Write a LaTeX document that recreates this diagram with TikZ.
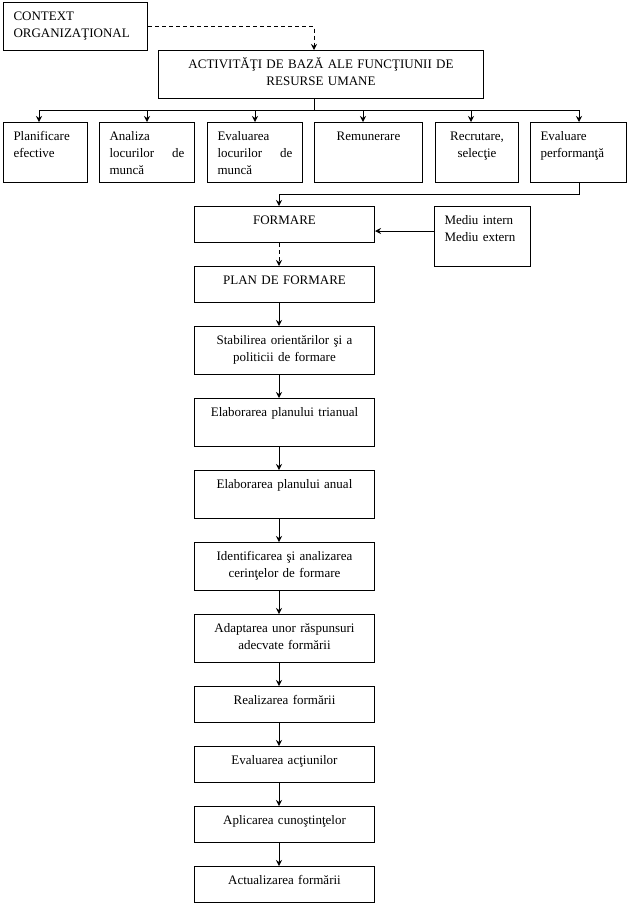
\documentclass[tikz,border=0pt]{standalone}
\usepackage{fontspec}
\setmainfont{Liberation Serif}
\usetikzlibrary{arrows.meta}
\tikzset{%
  box/.style={draw,anchor=north west,inner xsep=10pt,inner ysep=0pt,text height=18pt,align=left,font=\fontsize{13}{17}\selectfont},
  cbox/.style={box,align=center},
  colbox/.style={cbox,text width=160pt},
  shortbox/.style={colbox,text depth=18pt},
  tallbox/.style={colbox,text depth=30pt},
  rowbox/.style={text depth=42pt},
  dline/.style={dash pattern=on 4pt off 3pt}
}
\newcommand{\spread}{\hskip 0pt plus 1filll\relax}
\begin{document}
\begin{tikzpicture}[x=1pt,y=-1pt,line width=1pt,>={Stealth[length=6pt,width=6pt,inset=2pt]}]
  \useasboundingbox (0,0) rectangle (630,906);
  \coordinate (top) at (314,0);
  \coordinate (spine) at (279,0);
  % top boxes
  \node[box,text width=124pt,text depth=30pt] (ctx) at (3,2) {CONTEXT\\ORGANIZAŢIONAL};
  \node[cbox,text width=305pt,text depth=30pt] (main) at (158,50) {ACTIVITĂŢI DE BAZĂ ALE FUNCŢIUNII DE\\RESURSE UMANE};
  % row of activities
  \node[box,rowbox,text width=64pt] (planif) at (3,122) {Planificare\\efective};
  \node[box,rowbox,text width=75pt] (analiza) at (99,122) {Analiza\\locurilor\spread de\\muncă};
  \node[box,rowbox,text width=75pt] (evalloc) at (207,122) {Evaluarea\\locurilor\spread de\\muncă};
  \node[cbox,rowbox,text width=88pt] (remun) at (314,122) {Remunerare};
  \node[cbox,rowbox,text width=63pt] (recrut) at (435,122) {Recrutare,\\selecţie};
  \node[box,rowbox,text width=76pt] (evalperf) at (530,122) {Evaluare\\performanţă};
  % training column
  \node[shortbox] (formare) at (194,206) {FORMARE};
  \node[box,rowbox,text width=76pt] (mediu) at (434,206) {Mediu intern\\Mediu extern};
  \node[shortbox] (planf) at (194,266) {PLAN DE FORMARE};
  \node[tallbox] (stab) at (194,326) {Stabilirea orientărilor şi a\\politicii de formare};
  \node[tallbox] (trian) at (194,398) {Elaborarea planului trianual};
  \node[tallbox] (anual) at (194,470) {Elaborarea planului anual};
  \node[tallbox] (ident) at (194,542) {Identificarea şi analizarea\\cerinţelor de formare};
  \node[tallbox] (adapt) at (194,614) {Adaptarea unor răspunsuri\\adecvate formării};
  \node[shortbox] (realiz) at (194,686) {Realizarea formării};
  \node[shortbox] (evact) at (194,746) {Evaluarea acţiunilor};
  \node[shortbox] (aplic) at (194,806) {Aplicarea cunoştinţelor};
  \node[shortbox] (actual) at (194,866) {Actualizarea formării};
  % connectors
  \draw[->,dline] (ctx.east) -| (main.north -| top);
  \foreach \n/\x in {planif/39,analiza/147,evalloc/255,remun/363,recrut/471,evalperf/579}
    \draw[->] (main.south -| top) |- (\x,110) -- (\n.north -| \x,0);
  \draw[->] (evalperf.south -| 579,0) -- (579,194) -| (formare.north -| spine);
  \draw[->] (mediu.west |- 0,231) -- (formare.east |- 0,231);
  \draw[->,dline] (formare.south -| spine) -- (planf.north -| spine);
  \foreach \a/\b in {planf/stab,stab/trian,trian/anual,anual/ident,ident/adapt,adapt/realiz,realiz/evact,evact/aplic,aplic/actual}
    \draw[->] (\a.south -| spine) -- (\b.north -| spine);
\end{tikzpicture}
\end{document}
